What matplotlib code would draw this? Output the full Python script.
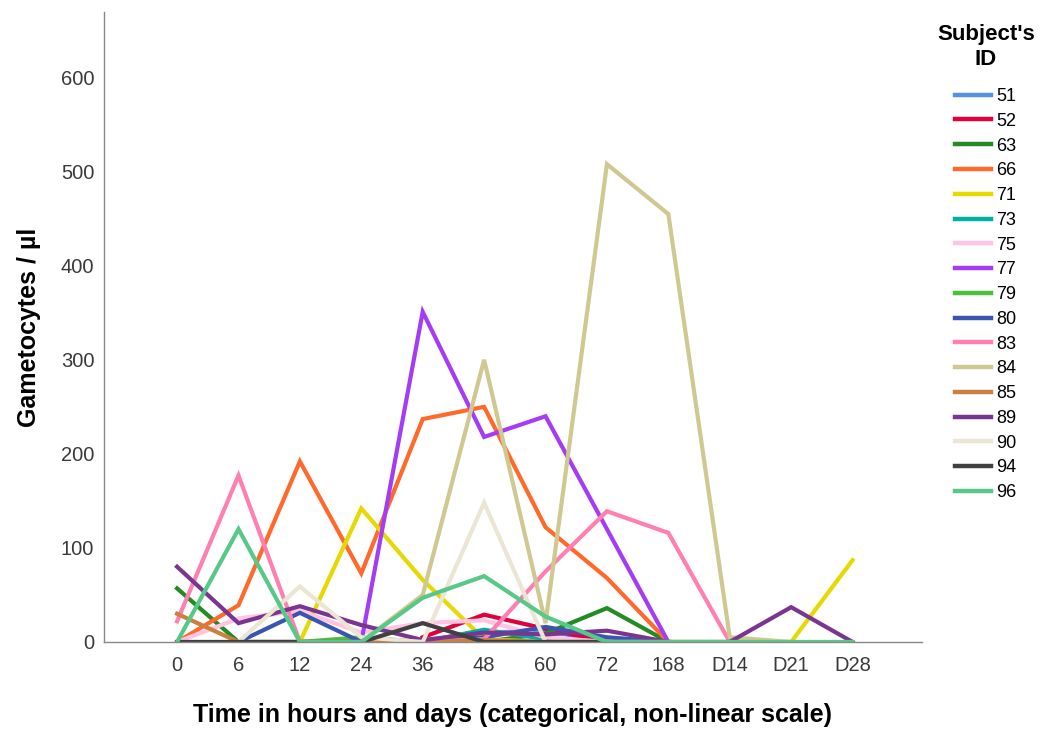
import matplotlib
matplotlib.use('Agg')
import matplotlib.pyplot as plt
import numpy as np

nan = np.nan

# categorical time points
times = ['0', '6', '12', '24', '36', '48', '60', '72', '168', 'D14', 'D21', 'D28']

subjects = ['51', '52', '63', '66', '71', '73', '75', '77', '79', '80',
            '83', '84', '85', '89', '90', '94', '96']

colors = ['#5591e0', '#e0003c', '#238b23', '#ff6a2c', '#e6d800', '#00b0a0',
          '#ffc4e2', '#a43cf6', '#4cc03c', '#3a55b0', '#ff80b0', '#cfc890',
          '#cc8040', '#7a3590', '#ebe5d3', '#404040', '#58c888']

# gametocytes / ul per subject, one value per time point
g51 = [nan, nan, nan, nan, 0, 10, 12, 0, 0, nan, nan, nan]
g52 = [nan, nan, nan, nan, 5, 29, 14, 0, 0, nan, nan, nan]
g63 = [57, 0, 0, 0, 0, 0, 9, 36, 0, nan, nan, nan]
g66 = [0, 39, 192, 73, 237, 250, 122, 68, 0, nan, nan, nan]
g71 = [nan, nan, 0, 142, 66, 3, 0, 0, 0, 0, 0, 87]
g73 = [nan, nan, nan, nan, 0, 13, 3, 0, 0, nan, nan, nan]
g75 = [0, 25, 33, 10, 20, 23, 5, 0, 0, nan, nan, nan]
g77 = [nan, nan, nan, 0, 351, 218, 240, 120, 0, nan, nan, nan]
g79 = [nan, nan, 0, 5, 0, 0, 0, 0, 0, nan, nan, nan]
g80 = [nan, 0, 31, 0, 0, 5, 16, 5, 0, nan, nan, nan]
g83 = [22, 177, 0, 0, 0, 3, 75, 139, 116, 0, nan, nan]
g84 = [nan, nan, nan, 0, 50, 300, 20, 508, 455, 5, 0, nan]
g85 = [30, 0, 0, 0, 0, 2, 0, 0, 0, nan, nan, nan]
g89 = [80, 20, 38, 18, 2, 10, 8, 12, 0, 0, 37, 0]
g90 = [nan, 0, 59, 5, 0, 148, 0, 0, 0, nan, nan, nan]
g94 = [0, 0, 0, 0, 20, 0, 0, 0, nan, nan, nan, nan]
g96 = [0, 120, 0, 0, 47, 70, 27, 0, 0, 0, 0, 0]

series = [g51, g52, g63, g66, g71, g73, g75, g77, g79, g80,
          g83, g84, g85, g89, g90, g94, g96]


def main():
    plt.rcParams['font.family'] = ['Liberation Sans', 'DejaVu Sans']

    fig = plt.figure(figsize=(10.42, 7.31), dpi=100)
    ax = fig.add_axes([0.0998, 0.1218, 0.785, 0.862])

    x = np.arange(len(times))
    for sid, vals, c in zip(subjects, series, colors):
        ax.plot(x, vals, color=c, lw=3.0, label=sid, solid_joinstyle='miter')

    ax.set_xlim(-1.19, 12.13)
    ax.set_ylim(0, 670)
    ax.set_xticks(x)
    ax.set_xticklabels(times)
    ax.set_yticks([0, 100, 200, 300, 400, 500, 600])
    ax.tick_params(length=0, labelsize=14.5, labelcolor='#3a3a3a')
    ax.tick_params(axis='x', pad=10)
    ax.tick_params(axis='y', pad=7)

    for s in ['top', 'right']:
        ax.spines[s].set_visible(False)
    for s in ['left', 'bottom']:
        ax.spines[s].set_color('#888888')
        ax.spines[s].set_linewidth(1.0)

    ax.set_xlabel('Time in hours and days (categorical, non-linear scale)',
                  fontsize=18, fontweight='bold', labelpad=20)
    ax.set_ylabel('Gametocytes / µl', fontsize=18, fontweight='bold', labelpad=14)

    # legend title drawn separately so the gap below it can be matched
    fig.text(986 / 1042, 1 - 47 / 731, "Subject's\nID", ha='center', va='center',
             fontsize=16, fontweight='bold', linespacing=1.3)
    leg = fig.legend(loc='upper center', bbox_to_anchor=(986 / 1042, 1 - 79 / 731),
                     frameon=False, fontsize=13,
                     handlelength=2.0, handletextpad=0.28, labelspacing=0.43,
                     borderpad=0.0)
    for line in leg.get_lines():
        line.set_linewidth(3.2)

    fig.savefig('out.png', dpi=100)
    plt.close()


main()
